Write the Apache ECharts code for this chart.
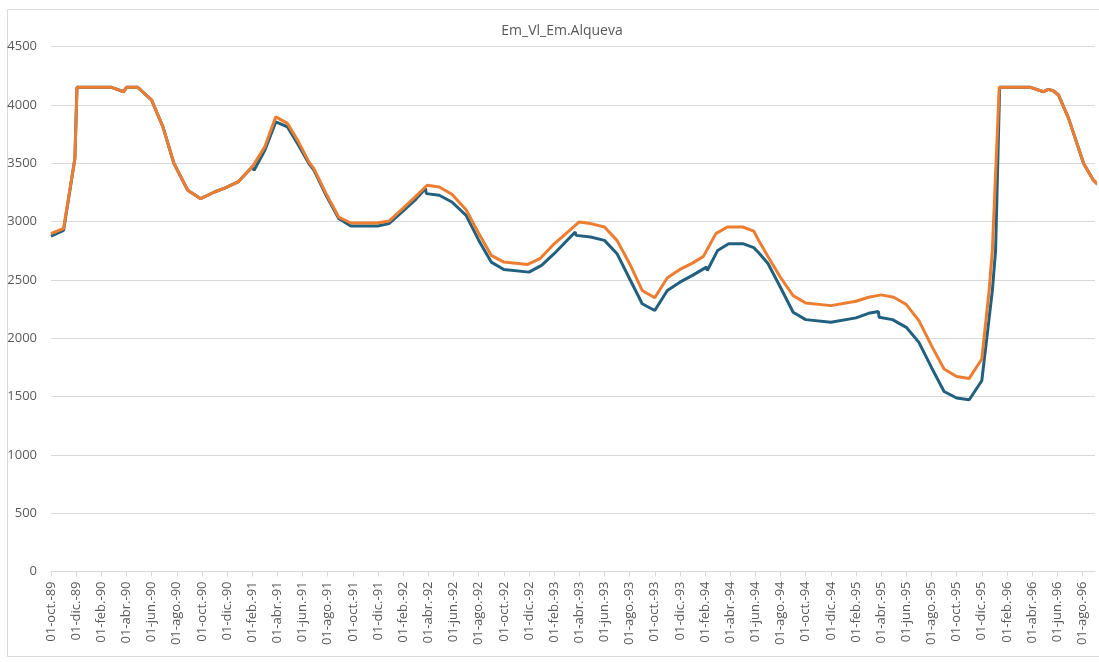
<!DOCTYPE html>
<html>
<head>
<meta charset="utf-8">
<script src="https://cdn.jsdelivr.net/npm/echarts@6/dist/echarts.min.js"></script>
<style>
html,body{margin:0;padding:0;background:#fff;}
#chart{width:1099px;height:662px;}
</style>
</head>
<body>
<div id="chart"></div>
<script>
const chartTitle = 'Em_Vl_Em.Alqueva';

const tickLabels = [
  '01-oct.-89','01-dic.-89','01-feb.-90','01-abr.-90','01-jun.-90','01-ago.-90',
  '01-oct.-90','01-dic.-90','01-feb.-91','01-abr.-91','01-jun.-91','01-ago.-91',
  '01-oct.-91','01-dic.-91','01-feb.-92','01-abr.-92','01-jun.-92','01-ago.-92',
  '01-oct.-92','01-dic.-92','01-feb.-93','01-abr.-93','01-jun.-93','01-ago.-93',
  '01-oct.-93','01-dic.-93','01-feb.-94','01-abr.-94','01-jun.-94','01-ago.-94',
  '01-oct.-94','01-dic.-94','01-feb.-95','01-abr.-95','01-jun.-95','01-ago.-95',
  '01-oct.-95','01-dic.-95','01-feb.-96','01-abr.-96','01-jun.-96','01-ago.-96'
];

const orangeDates = [
  '1989-10-01','1989-11-01','1989-11-28','1989-12-03','1990-02-24','1990-03-25',
  '1990-04-01','1990-04-28','1990-06-01','1990-06-28','1990-07-25','1990-08-28',
  '1990-09-28','1990-11-01','1990-11-28','1990-12-28','1991-02-01','1991-03-01',
  '1991-03-28','1991-04-25','1991-05-22','1991-06-16','1991-06-28','1991-07-28',
  '1991-08-28','1991-09-26','1991-11-30','1991-12-28','1992-02-01','1992-03-01',
  '1992-03-29','1992-04-27','1992-05-28','1992-07-01','1992-08-01','1992-09-01',
  '1992-10-01','1992-11-28','1992-12-28','1993-01-28','1993-04-01','1993-04-28',
  '1993-06-01','1993-07-01','1993-08-01','1993-09-01','1993-10-01','1993-11-01',
  '1993-12-01','1994-01-01','1994-01-28','1994-02-25','1994-03-25','1994-05-01',
  '1994-05-28','1994-06-10','1994-07-01','1994-08-01','1994-09-01','1994-10-01',
  '1994-12-01','1995-02-01','1995-03-01','1995-04-01','1995-05-01','1995-06-01',
  '1995-07-01','1995-08-01','1995-09-01','1995-10-01','1995-11-01','1995-12-01',
  '1995-12-19','1995-12-27','1996-01-13','1996-03-28','1996-04-28','1996-05-10',
  '1996-05-22','1996-06-04','1996-06-28','1996-08-04','1996-08-28','1996-09-07'
];
const orangeValues = [
  2896,2940,3540,4150,4150,4112,
  4150,4150,4041,3811,3497,3268,
  3196,3253,3291,3339,3468,3640,
  3897,3841,3683,3511,3454,3239,
  3038,2987,2987,3004,3115,3215,
  3311,3296,3233,3100,2900,2710,
  2652,2632,2681,2795,2996,2982,
  2953,2838,2638,2409,2346,2518,
  2589,2643,2701,2896,2953,2953,
  2918,2830,2700,2520,2365,2302,
  2279,2316,2351,2371,2351,2288,
  2150,1936,1736,1672,1655,1821,
  2408,2752,4150,4150,4112,4133,
  4121,4084,3884,3497,3354,3320
];

const blueDates = [
  '1989-10-01','1989-11-01','1989-11-28','1989-12-03','1990-02-24','1990-03-25',
  '1990-04-01','1990-04-28','1990-06-01','1990-06-28','1990-07-25','1990-08-28',
  '1990-09-28','1990-11-01','1990-11-28','1990-12-28','1991-02-01','1991-02-05',
  '1991-03-01','1991-03-28','1991-04-25','1991-05-22','1991-06-16','1991-06-28',
  '1991-07-28','1991-08-28','1991-09-26','1991-11-30','1991-12-28','1992-02-01',
  '1992-03-01','1992-03-25','1992-03-27','1992-04-27','1992-05-28','1992-07-01',
  '1992-08-01','1992-09-01','1992-10-01','1992-12-01','1993-01-01','1993-02-01',
  '1993-03-22','1993-03-24','1993-04-28','1993-06-01','1993-07-01','1993-08-01',
  '1993-09-01','1993-10-01','1993-11-01','1993-12-01','1994-01-01','1994-02-04',
  '1994-02-06','1994-03-01','1994-03-28','1994-05-01','1994-05-28','1994-06-10',
  '1994-07-01','1994-08-01','1994-09-01','1994-10-01','1994-12-01','1995-02-01',
  '1995-03-01','1995-03-25','1995-03-27','1995-04-28','1995-06-01','1995-07-01',
  '1995-08-01','1995-09-01','1995-10-01','1995-11-01','1995-12-01','1995-12-27',
  '1996-01-04','1996-01-14','1996-03-28','1996-04-28','1996-05-10','1996-05-22',
  '1996-06-04','1996-06-28','1996-08-04','1996-08-28','1996-09-07'
];
const blueValues = [
  2875,2924,3540,4150,4150,4112,
  4150,4150,4041,3811,3497,3268,
  3196,3253,3291,3339,3468,3440,
  3611,3854,3811,3654,3497,3440,
  3225,3025,2961,2961,2982,3090,
  3190,3282,3239,3225,3167,3053,
  2840,2652,2589,2566,2624,2724,
  2910,2881,2867,2838,2724,2509,
  2295,2237,2409,2480,2538,2609,
  2580,2752,2810,2810,2776,2728,
  2640,2434,2222,2159,2136,2174,
  2213,2228,2179,2159,2093,1964,
  1749,1543,1487,1472,1635,2408,
  2752,4150,4150,4112,4133,4121,
  4084,3884,3497,3354,3320
];

// month offset from 01-oct-1989
function toMonth(s) {
  const p = s.split('-').map(Number);
  const dim = new Date(p[0], p[1], 0).getDate();
  return (p[0] - 1989) * 12 + (p[1] - 10) + (p[2] - 1) / dim;
}
const orangeData = orangeDates.map((d, i) => [toMonth(d), orangeValues[i]]);
const blueData = blueDates.map((d, i) => [toMonth(d), blueValues[i]]);

const chart = echarts.init(document.getElementById('chart'), null, {renderer: 'canvas'});
const font = 'Open Sans, Liberation Sans, sans-serif';
chart.setOption({
  animation: false,
  backgroundColor: '#ffffff',
  title: {
    text: chartTitle,
    left: 557,
    top: 19,
    textAlign: 'center',
    textStyle: {color: '#595959', fontSize: 14, fontWeight: 'normal', fontFamily: font}
  },
  graphic: [{
    type: 'rect',
    shape: {x: 7.5, y: 9.5, width: 1200, height: 647},
    style: {fill: 'none', stroke: '#d9d9d9', lineWidth: 1},
    silent: true
  }],
  grid: {left: 51, right: 4, top: 46.5, bottom: 90.5, containLabel: false},
  xAxis: {
    type: 'value',
    min: 0,
    max: 83,
    interval: 2,
    splitLine: {show: false},
    axisLine: {show: true, lineStyle: {color: '#d9d9d9', width: 1}},
    axisTick: {show: true, length: 5, lineStyle: {color: '#d9d9d9'}},
    axisLabel: {
      rotate: 90,
      margin: 10,
      color: '#595959',
      fontSize: 13,
      fontFamily: font,
      showMaxLabel: false,
      formatter: function (v) {
        const i = Math.round(v / 2);
        return (Math.abs(v / 2 - i) < 1e-6 && tickLabels[i]) ? tickLabels[i] : '';
      }
    }
  },
  yAxis: {
    type: 'value',
    min: 0,
    max: 4500,
    interval: 500,
    axisLine: {show: false},
    axisTick: {show: false},
    splitLine: {show: true, lineStyle: {color: '#d9d9d9', width: 1}},
    axisLabel: {
      color: '#595959', fontSize: 13, fontFamily: font, margin: 14,
      formatter: function (v) { return String(v); }
    }
  },
  series: [
    {
      name: 'Em_Vl',
      type: 'line',
      data: blueData,
      showSymbol: false,
      symbol: 'none',
      lineStyle: {color: '#22607f', width: 3},
      itemStyle: {color: '#22607f'},
      z: 2
    },
    {
      name: 'Em.Alqueva',
      type: 'line',
      data: orangeData,
      showSymbol: false,
      symbol: 'none',
      lineStyle: {color: '#ed7d31', width: 3},
      itemStyle: {color: '#ed7d31'},
      z: 3
    }
  ]
});
</script>
</body>
</html>
